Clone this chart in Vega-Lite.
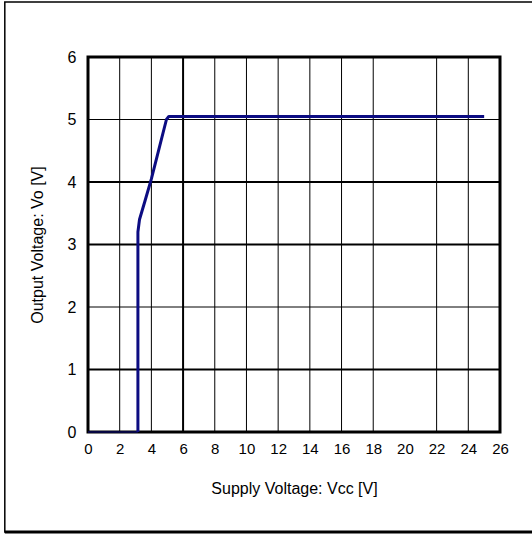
{
  "$schema": "https://vega.github.io/schema/vega-lite/v6.json",
  "width": 412,
  "height": 375,
  "autosize": {"type": "none"},
  "padding": {"left": 88, "top": 57, "right": 32, "bottom": 102},
  "background": "white",
  "config": {
    "view": {"stroke": "black", "strokeWidth": 3},
    "axis": {"labelFont": "Liberation Sans", "titleFont": "Liberation Sans", "labelColor": "black", "titleColor": "black", "titleFontWeight": "normal", "labelOverlap": false, "grid": false, "ticks": false, "domain": false, "labelFlush": false},
    "axisX": {"labelFontSize": 15, "labelPadding": 9, "titleFontSize": 16, "titlePadding": 24},
    "axisY": {"labelFontSize": 16, "labelPadding": 12, "titleFontSize": 16, "titlePadding": 22}
  },
  "datasets": {
    "curve": [
      {"vcc": 3.15, "vo": 0},
      {"vcc": 3.15, "vo": 3.2},
      {"vcc": 3.25, "vo": 3.4},
      {"vcc": 3.6, "vo": 3.7},
      {"vcc": 4.0, "vo": 4.05},
      {"vcc": 4.5, "vo": 4.55},
      {"vcc": 4.95, "vo": 5.0},
      {"vcc": 5.1, "vo": 5.05},
      {"vcc": 25, "vo": 5.05}
    ],
    "base": [
      {"vcc": 0, "vo": 0},
      {"vcc": 3.15, "vo": 0}
    ],
    "vthin": [{"v": 2}, {"v": 4}, {"v": 8}, {"v": 10}, {"v": 12}, {"v": 14}, {"v": 16}, {"v": 18}, {"v": 22}, {"v": 24}],
    "vthick": [{"v": 6}],
    "hthin": [{"v": 2}, {"v": 5}],
    "hthick": [{"v": 1}, {"v": 3}, {"v": 4}]
  },
  "layer": [
    {
      "data": {"name": "vthin"},
      "mark": {"type": "rule", "color": "black", "strokeWidth": 1},
      "encoding": {
        "x": {"field": "v", "type": "quantitative", "scale": {"domain": [0, 26], "nice": false}, "axis": {"title": "Supply Voltage: Vcc [V]", "tickCount": 13, "labelOverlap": false}}
      }
    },
    {
      "data": {"name": "vthick"},
      "mark": {"type": "rule", "color": "black", "strokeWidth": 2},
      "encoding": {"x": {"field": "v", "type": "quantitative"}}
    },
    {
      "data": {"name": "hthin"},
      "mark": {"type": "rule", "color": "black", "strokeWidth": 1},
      "encoding": {
        "y": {"field": "v", "type": "quantitative", "scale": {"domain": [0, 6], "nice": false}, "axis": {"title": "Output Voltage: Vo [V]", "tickCount": 6, "format": "d", "labelOverlap": false}}
      }
    },
    {
      "data": {"name": "hthick"},
      "mark": {"type": "rule", "color": "black", "strokeWidth": 2},
      "encoding": {"y": {"field": "v", "type": "quantitative"}}
    },
    {
      "data": {"name": "base"},
      "mark": {"type": "line", "color": "#0c0c82", "strokeWidth": 1, "clip": false},
      "encoding": {
        "x": {"field": "vcc", "type": "quantitative"},
        "y": {"field": "vo", "type": "quantitative"}
      }
    },
    {
      "data": {"name": "curve"},
      "mark": {"type": "line", "color": "#0c0c82", "strokeWidth": 3, "strokeJoin": "round", "clip": false},
      "encoding": {
        "x": {"field": "vcc", "type": "quantitative"},
        "y": {"field": "vo", "type": "quantitative"}
      }
    },
    {
      "data": {"values": [{}]},
      "mark": {"type": "rect", "fill": null, "stroke": "black", "strokeWidth": 1.5, "clip": false},
      "encoding": {
        "x": {"datum": -5.25, "type": "quantitative"},
        "x2": {"datum": 28.5},
        "y": {"datum": 6.88, "type": "quantitative"},
        "y2": {"datum": -1.6}
      }
    },
    {
      "data": {"values": [{}]},
      "mark": {"type": "rule", "stroke": "black", "strokeWidth": 3, "clip": false},
      "encoding": {
        "x": {"datum": -5.25, "type": "quantitative"},
        "x2": {"datum": 28.5},
        "y": {"datum": -1.6, "type": "quantitative"}
      }
    }
  ]
}
